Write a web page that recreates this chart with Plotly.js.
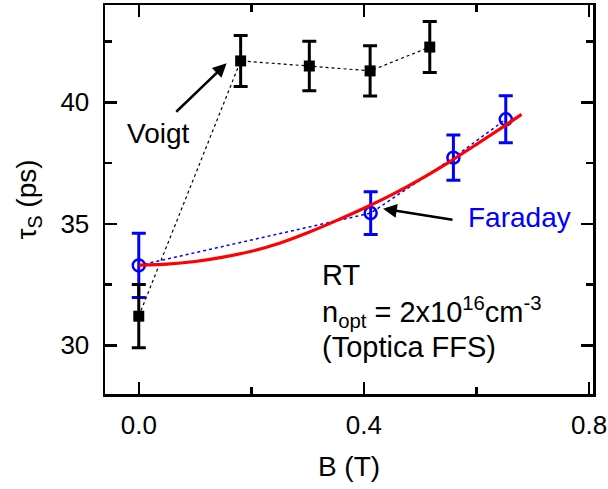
<!DOCTYPE html>
<html>
<head>
<meta charset="utf-8">
<script src="https://cdn.plot.ly/plotly-3.0.1.min.js"></script>
<style>html,body{margin:0;padding:0;background:#fff;}#chart{width:608px;height:489px;}</style>
</head>
<body>
<div id="chart"></div>
<script>
// Voigt geometry (black squares)
const voigtB = [0.0, 0.181, 0.303, 0.411, 0.517];
const voigtTau = [31.2, 41.70, 41.49, 41.29, 42.27];
const voigtErr = [1.3, 1.05, 1.02, 1.03, 1.05];

// Faraday geometry (blue open circles)
const faradayB = [0.0, 0.412, 0.559, 0.652];
const faradayTau = [33.29, 35.44, 37.72, 39.30];
const faradayErr = [1.32, 0.88, 0.93, 0.97];

// Fit curve (red)
const fitB = [0.0, 0.05, 0.10, 0.15, 0.20, 0.25, 0.30, 0.35, 0.40, 0.45, 0.50, 0.55, 0.60, 0.65, 0.68];
const fitTau = [33.30, 33.34, 33.45, 33.63, 33.87, 34.20, 34.63, 35.12, 35.64, 36.20, 36.83, 37.52, 38.27, 39.03, 39.50];

const FONT = 'Liberation Sans, Arial, sans-serif';

const traces = [
  {
    x: faradayB, y: faradayTau, type: 'scatter', mode: 'lines+markers',
    line: {color: '#0000ff', width: 1.5, dash: 'dot'},
    marker: {symbol: 'circle-open', size: 12, color: '#0000ff', line: {width: 2.5, color: '#0000ff'}},
    error_y: {type: 'data', array: faradayErr, visible: true, color: '#0000ff', thickness: 3, width: 7},
    showlegend: false, hoverinfo: 'skip'
  },
  {
    x: voigtB, y: voigtTau, type: 'scatter', mode: 'lines+markers',
    line: {color: '#000000', width: 1.2, dash: 'dot'},
    marker: {symbol: 'square', size: 11, color: '#000000'},
    error_y: {type: 'data', array: voigtErr, visible: true, color: '#000000', thickness: 3, width: 7},
    showlegend: false, hoverinfo: 'skip'
  },
  {
    x: fitB, y: fitTau, type: 'scatter', mode: 'lines',
    line: {color: '#ff0000', width: 3.2, shape: 'spline', smoothing: 0.6},
    showlegend: false, hoverinfo: 'skip'
  }
];

const axisCommon = {
  showline: true, linecolor: '#000', linewidth: 2.5, mirror: 'ticks',
  ticks: 'inside', ticklen: 12, tickwidth: 2.5, tickcolor: '#000',
  showgrid: false, zeroline: false,
  tickfont: {family: FONT, size: 26, color: '#000'}
};

const layout = {
  width: 608, height: 489,
  margin: {l: 105, r: 15, t: 5, b: 95},
  paper_bgcolor: '#fff', plot_bgcolor: '#fff',
  font: {family: FONT, color: '#000'},
  xaxis: Object.assign({}, axisCommon, {
    range: [-0.06, 0.807], tickmode: 'linear', tick0: 0, dtick: 0.4, tickformat: '.1f',
    minor: {ticks: 'inside', ticklen: 7, tickwidth: 2.5, tickcolor: '#000', dtick: 0.2, tick0: 0, showgrid: false},
    ticklabelstandoff: 6,
    title: {text: 'B (T)', font: {family: FONT, size: 28, color: '#000'}, standoff: 18}
  }),
  yaxis: Object.assign({}, axisCommon, {
    range: [28, 44], tickmode: 'linear', tick0: 30, dtick: 5,
    minor: {ticks: 'inside', ticklen: 7, tickwidth: 2.5, tickcolor: '#000', dtick: 2.5, tick0: 30, showgrid: false},
    ticklabelstandoff: 8,
    title: {text: 'τ<sub>S</sub> (ps)', font: {family: FONT, size: 28, color: '#000'}, standoff: 16}
  }),
  annotations: [
    {x: 0.156, y: 41.6, ax: 0.064, ay: 39.55, xref: 'x', yref: 'y', axref: 'x', ayref: 'y',
     text: '', showarrow: true, arrowhead: 2, arrowsize: 1.1, arrowwidth: 2.5, arrowcolor: '#000'},
    {x: 0.034, y: 38.73, xref: 'x', yref: 'y', text: 'Voigt', showarrow: false,
     font: {family: FONT, size: 28, color: '#000'}, xanchor: 'center', yanchor: 'middle'},
    {x: 0.434, y: 35.62, ax: 0.56, ay: 35.16, xref: 'x', yref: 'y', axref: 'x', ayref: 'y',
     text: '', showarrow: true, arrowhead: 2, arrowsize: 1.1, arrowwidth: 2.5, arrowcolor: '#000'},
    {x: 0.677, y: 35.25, xref: 'x', yref: 'y', text: 'Faraday', showarrow: false,
     font: {family: FONT, size: 28, color: '#0000ff'}, xanchor: 'center', yanchor: 'middle'},
    {x: 0.322, y: 32.88, xref: 'x', yref: 'y', text: 'RT', showarrow: false,
     font: {family: FONT, size: 29, color: '#000'}, xanchor: 'left', yanchor: 'middle'},
    {x: 0.322, y: 31.36, xref: 'x', yref: 'y', text: 'n<sub>opt</sub> = 2x10<sup>16</sup>cm<sup>-3</sup>', showarrow: false,
     font: {family: FONT, size: 29, color: '#000'}, xanchor: 'left', yanchor: 'middle'},
    {x: 0.322, y: 29.92, xref: 'x', yref: 'y', text: '(Toptica FFS)', showarrow: false,
     font: {family: FONT, size: 29, color: '#000'}, xanchor: 'left', yanchor: 'middle'}
  ]
};

Plotly.newPlot('chart', traces, layout, {staticPlot: true, displayModeBar: false});
</script>
</body>
</html>
